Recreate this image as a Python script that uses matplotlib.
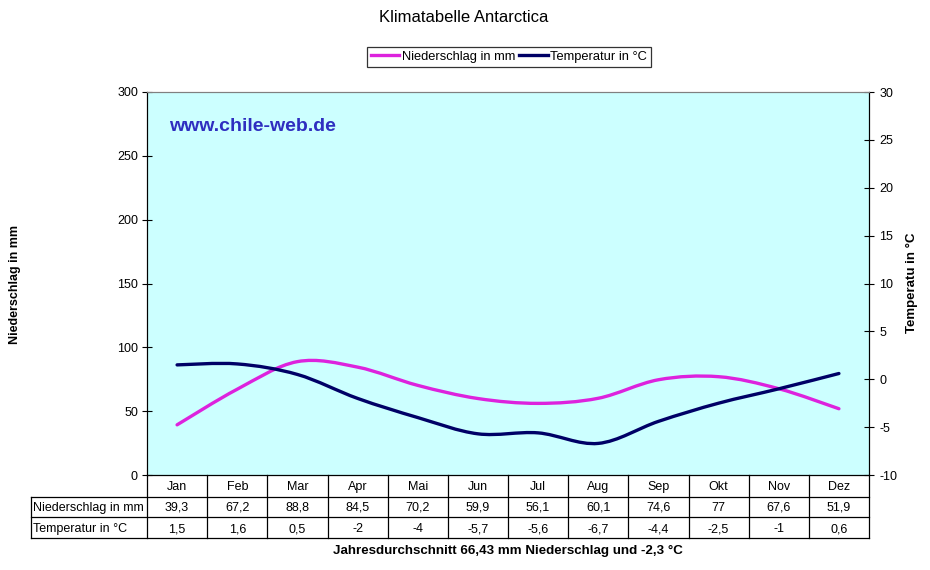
import matplotlib
matplotlib.use('Agg')
import matplotlib.pyplot as plt
from matplotlib.path import Path
from matplotlib.patches import PathPatch
from matplotlib.lines import Line2D
from matplotlib.transforms import blended_transform_factory
import numpy as np

plt.rcParams['font.family'] = ['Liberation Sans', 'DejaVu Sans']
plt.rcParams['axes.unicode_minus'] = False

months = ['Jan', 'Feb', 'Mar', 'Apr', 'Mai', 'Jun', 'Jul', 'Aug', 'Sep', 'Okt', 'Nov', 'Dez']
niederschlag = [39.3, 67.2, 88.8, 84.5, 70.2, 59.9, 56.1, 60.1, 74.6, 77, 67.6, 51.9]
temperatur = [1.5, 1.6, 0.5, -2, -4, -5.7, -5.6, -6.7, -4.4, -2.5, -1, 0.6]
row_labels = ['Niederschlag in mm', 'Temperatur in °C']
rain_ticks = [0, 50, 100, 150, 200, 250, 300]
temp_ticks = [-10, -5, 0, 5, 10, 15, 20, 25, 30]

rain_color = '#DD22DD'
temp_color = '#000066'
W, H = 930, 570


def fmt(v):
    return ('%g' % v).replace('.', ',')


def smooth_path(xs, ys):
    # Catmull-Rom style bezier like Excel smoothed lines
    pts = np.column_stack([xs, ys]).astype(float)
    n = len(pts)
    verts = [pts[0]]
    codes = [Path.MOVETO]
    for i in range(n - 1):
        p0 = pts[i - 1] if i > 0 else pts[i]
        p1 = pts[i]
        p2 = pts[i + 1]
        p3 = pts[i + 2] if i + 2 < n else pts[i + 1]
        verts += [p1 + (p2 - p0) / 6, p2 - (p3 - p1) / 6, p2]
        codes += [Path.CURVE4] * 3
    return Path(verts, codes)


fig = plt.figure(figsize=(W / 100, H / 100), dpi=100)
x0, x1, y0, y1 = 147, 869, 92, 475
ax_h = y1 - y0
ax = fig.add_axes([x0 / W, 1 - y1 / H, (x1 - x0) / W, ax_h / H])
ax.set_facecolor('#CCFFFF')
ax2 = ax.twinx()

x = np.arange(len(months))
ax.set_xlim(-0.5, 11.5)
ax.set_ylim(0, 300)
ax2.set_ylim(-10, 30)

ax.add_patch(PathPatch(smooth_path(x, niederschlag), fill=False, ec=rain_color,
                       lw=2.4, capstyle='round', zorder=3))
ax2.add_patch(PathPatch(smooth_path(x, temperatur), fill=False, ec=temp_color,
                        lw=2.4, capstyle='round', zorder=3))

ax.set_xticks([])
ax.set_yticks(rain_ticks)
ax2.set_yticks(temp_ticks)
ax.tick_params(axis='y', direction='inout', length=7, labelsize=9, pad=3)
ax2.tick_params(axis='y', direction='inout', length=7, labelsize=9, pad=4)
for a in (ax, ax2):
    a.spines['top'].set_color('#808080')
    a.spines['bottom'].set_visible(False)

ax.text(0.03, 0.91, 'www.chile-web.de', transform=ax.transAxes, fontsize=14,
        fontweight='bold', color='#2E2EC0', va='center')

# data table drawn under the plot (x in month units, y in pixels below the axes)
tr = blended_transform_factory(ax.transData, ax.transAxes)
col_w = (x1 - x0) / 12
lab_left = -0.5 - 116 / col_w
rows_y = [0, -22, -42, -63]  # pixel offsets of horizontal lines
ry = [v / ax_h for v in rows_y]
base = [v / ax_h for v in (-15, -36, -57)]  # text baselines per row
kw = dict(transform=tr, color='black', lw=0.9, clip_on=False)
ax.add_line(Line2D([-0.5, 11.5], [ry[0], ry[0]], **kw))
for yy in ry[1:]:
    ax.add_line(Line2D([lab_left, 11.5], [yy, yy], **kw))
for i in range(13):
    ax.add_line(Line2D([i - 0.5, i - 0.5], [ry[0], ry[3]], **kw))
ax.add_line(Line2D([lab_left, lab_left], [ry[1], ry[3]], **kw))

tfs = 9
for i, m in enumerate(months):
    ax.text(i, base[0], m, transform=tr, ha='center', va='baseline', fontsize=tfs)
    ax.text(i, base[1], fmt(niederschlag[i]), transform=tr, ha='center',
            va='baseline', fontsize=tfs)
    ax.text(i, base[2], fmt(temperatur[i]), transform=tr, ha='center',
            va='baseline', fontsize=tfs)
for k, lab in enumerate(row_labels):
    ax.text(lab_left + 0.03, base[k + 1], lab, transform=tr, ha='left',
            va='baseline', fontsize=tfs)

fig.text(464 / W, 1 - 18 / H, 'Klimatabelle Antarctica', ha='center', va='center',
         fontsize=12)
fig.text(15 / W, 1 - 285 / H, 'Niederschlag in mm', rotation=90, ha='center', va='center',
         fontsize=9, fontweight='bold')
fig.text(912 / W, 1 - 283 / H, 'Temperatu in °C', rotation=90, ha='center', va='center',
         fontsize=9.5, fontweight='bold')
fig.text(508 / W, 1 - 551 / H, 'Jahresdurchschnitt 66,43 mm Niederschlag und -2,3 °C',
         ha='center', va='center', fontsize=9.6, fontweight='bold')

handles = [Line2D([], [], color=rain_color, lw=2.4), Line2D([], [], color=temp_color, lw=2.4)]
leg = fig.legend(handles, ['Niederschlag in mm', 'Temperatur in °C'], loc='center',
                 bbox_to_anchor=(509 / W, 1 - 57 / H), ncol=2, fontsize=9.3, frameon=True,
                 fancybox=False, edgecolor='black', handlelength=2.2, handletextpad=0.2,
                 columnspacing=0.3, borderpad=0.3, borderaxespad=0)
leg.get_frame().set_linewidth(0.9)

fig.savefig('out.png', dpi=100, facecolor='white')
